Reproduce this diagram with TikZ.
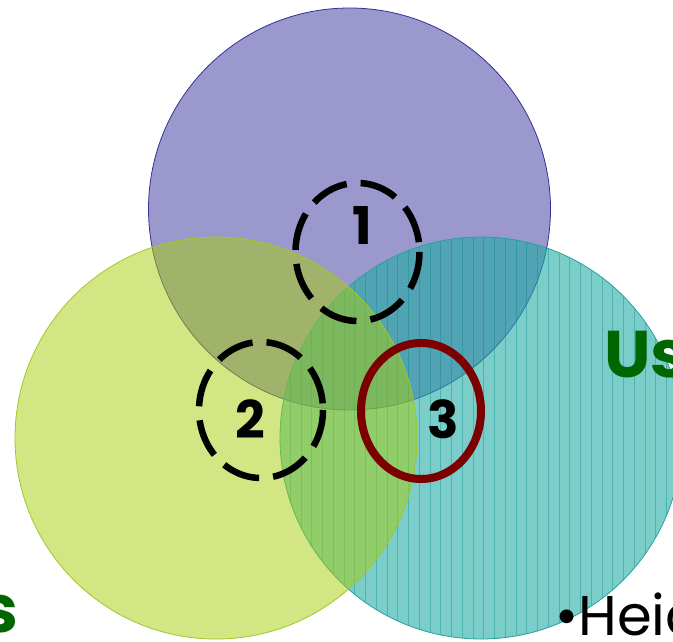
\documentclass[tikz,border=0pt]{standalone}
\usepackage{fontspec}
\setmainfont{Poppins}
\definecolor{purplebase}{RGB}{55,49,155}
\definecolor{purpleedge}{RGB}{50,50,150}
\definecolor{greenbase}{RGB}{168,205,10}
\definecolor{greenedge}{RGB}{160,200,40}
\definecolor{tealbase}{RGB}{33,172,163}
\definecolor{tealedge}{RGB}{40,160,160}
\definecolor{stripe}{RGB}{0,130,130}
\definecolor{darkred}{RGB}{125,0,0}
\definecolor{labelgreen}{RGB}{0,102,0}
\tikzset{
  dashring/.style={draw=black, line width=6.5pt, dash pattern=on 38pt off 14pt},
  solidring/.style={draw=darkred, line width=8pt},
  numlabel/.style={inner sep=0pt, font=\fontsize{52}{54}\selectfont\bfseries},
  biglabel/.style={inner sep=0pt, text=labelgreen, font=\fontsize{66}{70}\selectfont\bfseries},
  textlabel/.style={inner sep=0pt, text=black, font=\fontsize{56}{60}\selectfont}
}
\begin{document}
\begin{tikzpicture}[x=1pt,y=-1pt]
\useasboundingbox (0,0) rectangle (673,641);
\clip (0,0) rectangle (673,641);
\coordinate (cp) at (349.5,209);
\coordinate (cg) at (216,438);
\coordinate (ct) at (481,438);
% purple circle
\fill[purplebase, fill opacity=0.5] (cp) circle (201);
\draw[purpleedge, line width=0.8pt] (cp) circle (201);
% teal circle
\fill[tealbase, fill opacity=0.6] (ct) circle (201);
\begin{scope}
  \clip (ct) circle (201);
  \foreach \i in {0,...,40} {
    \draw[stripe, line width=0.9pt, draw opacity=0.35] ({279.5+10.75*\i},200) -- ({279.5+10.75*\i},645);
  }
\end{scope}
\draw[tealedge, line width=0.8pt] (ct) circle (201);
% green circle
\fill[greenbase, fill opacity=0.5] (cg) circle (201);
\draw[greenedge, line width=0.8pt] (cg) circle (201);
% rings
\draw[dashring] (357.5,252) ellipse [x radius=62, y radius=69];
\draw[dashring] (261,410) ellipse [x radius=62, y radius=68];
\draw[solidring] (421,411) ellipse [x radius=60, y radius=68];
% numbers
\node[numlabel] (n1) at (362,226) {1};
\node[numlabel] (n2) at (250,419) {2};
\node[numlabel] (n3) at (443,419) {3};
% texts
\node[biglabel, anchor=base west] (us) at (604,377) {Us};
\node[biglabel, anchor=base east] (s) at (19,632) {s};
\node[textlabel, anchor=base west] (heid) at (555,635) {•Heid};
\end{tikzpicture}
\end{document}
